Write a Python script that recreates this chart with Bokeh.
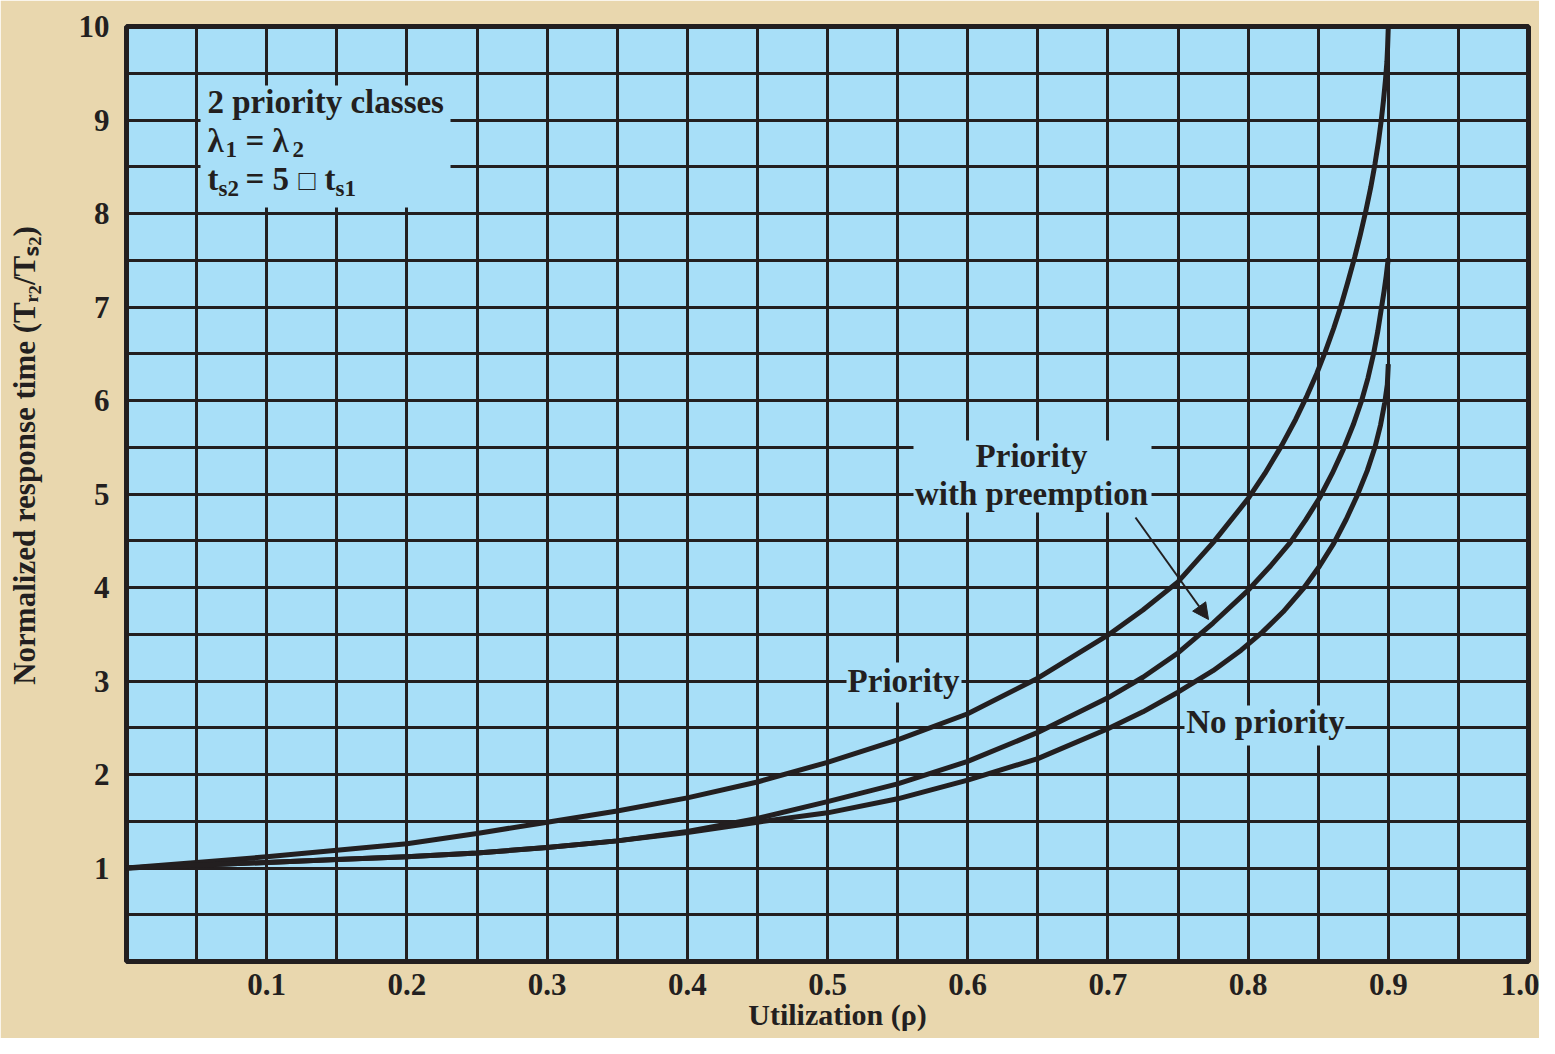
import math
from bokeh.plotting import figure
from bokeh.models import Range1d, FixedTicker, Arrow, NormalHead, LinearAxis
from bokeh.core.properties import value
from bokeh.embed import file_html
from bokeh.resources import INLINE

# ---- data ----
rho_priority = [0.0, 0.05, 0.1, 0.15, 0.2, 0.25, 0.3, 0.35, 0.4, 0.45, 0.5, 0.55, 0.6, 0.65,
                0.7, 0.725, 0.75, 0.775, 0.8, 0.812, 0.824, 0.834, 0.842, 0.849, 0.855, 0.861,
                0.866, 0.871, 0.876, 0.880, 0.884, 0.8875, 0.8905, 0.893, 0.895, 0.8965, 0.898,
                0.899, 0.8995, 0.9]
rt_priority = [1.0, 1.06, 1.12, 1.19, 1.26, 1.37, 1.49, 1.61, 1.75, 1.92, 2.13, 2.37, 2.65, 3.03,
               3.49, 3.76, 4.06, 4.48, 4.95, 5.22, 5.52, 5.80, 6.05, 6.29, 6.52, 6.77,
               7.0, 7.26, 7.53, 7.77, 8.03, 8.28, 8.53, 8.77, 9.0, 9.2, 9.43,
               9.62, 9.78, 10.0]

rho_preempt = [0.0, 0.05, 0.1, 0.15, 0.2, 0.25, 0.3, 0.35, 0.4, 0.45, 0.5, 0.55, 0.6, 0.65,
               0.7, 0.725, 0.75, 0.775, 0.8, 0.816, 0.830, 0.841, 0.851, 0.860, 0.868,
               0.875, 0.881, 0.8855, 0.8895, 0.8925, 0.895, 0.897, 0.8985, 0.9]
rt_preempt = [1.0, 1.03, 1.06, 1.09, 1.12, 1.16, 1.22, 1.29, 1.39, 1.53, 1.71, 1.90, 2.14, 2.45,
              2.82, 3.04, 3.30, 3.62, 3.97, 4.23, 4.48, 4.72, 4.96, 5.22, 5.48,
              5.74, 6.0, 6.24, 6.5, 6.74, 6.98, 7.17, 7.33, 7.52]

rho_nopriority = [0.0, 0.05, 0.1, 0.15, 0.2, 0.25, 0.3, 0.35, 0.4, 0.45, 0.5, 0.55, 0.6, 0.65,
                  0.7, 0.725, 0.75, 0.775, 0.795, 0.81, 0.825, 0.84, 0.851, 0.861, 0.870,
                  0.878, 0.885, 0.8905, 0.8945, 0.8975, 0.8993, 0.9]
rt_nopriority = [1.0, 1.03, 1.06, 1.09, 1.12, 1.16, 1.22, 1.29, 1.38, 1.49, 1.59, 1.74, 1.94, 2.17,
                 2.49, 2.67, 2.88, 3.11, 3.33, 3.52, 3.74, 4.0, 4.23, 4.47, 4.73,
                 4.99, 5.25, 5.5, 5.74, 5.98, 6.17, 6.39]

x_ticks = [0.1, 0.2, 0.3, 0.4, 0.5, 0.6, 0.7, 0.8, 0.9, 1.0]
x_tick_labels = ["0.1", "0.2", "0.3", "0.4", "0.5", "0.6", "0.7", "0.8", "0.9", "1.0"]
y_ticks = [1, 2, 3, 4, 5, 6, 7, 8, 9, 10]
y_tick_labels = ["1", "2", "3", "4", "5", "6", "7", "8", "9", "10"]

x_title = "Utilization (ρ)"
y_title = "Normalized response time (Tᵣ₂/Tₛ₂)"

# ---- styling ----
DARK = "#231f20"
BLUE = "#a8dff8"
TAN = "#e9d7ae"
FONT = "Liberation Serif"

W, H = 1539, 1038
FX0, FX1 = 126, 1528
FY0, FY1 = 26, 961

p = figure(width=W, height=H, output_backend="svg", toolbar_location=None,
           x_range=Range1d(0, 1), y_range=Range1d(0, 10),
           min_border_left=FX0, min_border_right=W - FX1,
           min_border_top=FY0, min_border_bottom=H - FY1)
p.background_fill_color = BLUE
p.border_fill_color = TAN
p.outline_line_color = DARK
p.outline_line_width = 5

p.xgrid.ticker = FixedTicker(ticks=[i * 0.05 for i in range(1, 20)])
p.ygrid.ticker = FixedTicker(ticks=[i * 0.5 for i in range(1, 20)])
for g in (p.xgrid, p.ygrid):
    g.grid_line_color = DARK
    g.grid_line_width = 3
    g.grid_line_alpha = 1.0

def style_axis(ax, size):
    ax.axis_line_color = None
    ax.major_tick_line_color = None
    ax.minor_tick_line_color = None
    ax.major_tick_out = 0
    ax.major_tick_in = 0
    ax.major_label_text_font = FONT
    ax.major_label_text_font_style = "bold"
    ax.major_label_text_font_size = size
    ax.major_label_text_color = DARK

p.xaxis.ticker = FixedTicker(ticks=x_ticks)
p.xaxis.major_label_overrides = dict(zip(x_ticks, x_tick_labels))
p.yaxis.ticker = FixedTicker(ticks=y_ticks)
p.yaxis.major_label_overrides = dict(zip(y_ticks, y_tick_labels))
style_axis(p.xaxis[0], "31px")
style_axis(p.yaxis[0], "31px")
p.xaxis.major_label_standoff = 12
p.yaxis.major_label_standoff = 17

# frame geometry (pixels) -> data, for placing annotations
def dx(px):
    return (px - FX0) / (FX1 - FX0)
def dy(py):
    return (FY1 - py) / (FY1 - FY0) * 10

# axis titles as single-tick axes so they can be placed freely outside the frame
xt = LinearAxis(ticker=FixedTicker(ticks=[dx(837)]),
                major_label_overrides={dx(837): x_title})
style_axis(xt, "30px")
xt.major_label_standoff = 0
p.add_layout(xt, "below")

yt = LinearAxis(ticker=FixedTicker(ticks=[dy(455)]),
                major_label_overrides={dy(455): y_title})
style_axis(yt, "31px")
yt.major_label_orientation = "vertical"
yt.major_label_standoff = 34
p.add_layout(yt, "left")

# label boxes that interrupt the grid
boxes = [(200, 450, 85, 207), (913, 1151, 440, 512), (846, 961, 662, 702), (1184, 1345, 705, 745)]
p.quad(left=[dx(b[0]) for b in boxes], right=[dx(b[1]) for b in boxes],
       top=[dy(b[2]) for b in boxes], bottom=[dy(b[3]) for b in boxes],
       fill_color=BLUE, line_color=None)

# curves
for xs, ys in ((rho_priority, rt_priority), (rho_preempt, rt_preempt), (rho_nopriority, rt_nopriority)):
    p.line(xs, ys, line_width=5, line_color=DARK, line_join="round", line_cap="butt")

SHIFT = 12
def txt(s, px, py, size, align="left", style="bold"):
    p.text(x=[dx(px)], y=[dy(py - SHIFT)], text=[s], text_font=value(FONT), text_font_style=style,
           text_font_size=f"{size}px", text_color=DARK, text_align=align, text_baseline="alphabetic")

# box 1
txt("2 priority classes", 207, 113, 33)
txt("λ", 207, 152, 33)
txt("1", 225, 161, 23)
txt("= λ", 245, 152, 33)
txt("2", 292, 161, 23)
txt("t", 207, 190, 33)
txt("s2", 218, 200, 23)
txt("= 5", 245, 190, 33)
txt("□", 298, 192, 28, style="normal")
txt("t", 324, 190, 33)
txt("s1", 335, 200, 23)

# curve labels
txt("Priority", 1031, 467, 33, "center")
txt("with preemption", 1031, 505, 33, "center")
txt("Priority", 903, 692, 33, "center")
txt("No priority", 1265, 733, 33, "center")

p.add_layout(Arrow(end=NormalHead(size=16, fill_color=DARK, line_color=DARK, line_width=1),
                   x_start=dx(1135), y_start=dy(517), x_end=dx(1208), y_end=dy(619),
                   line_color=DARK, line_width=2))

open("out.html", "w").write(file_html(p, INLINE))
